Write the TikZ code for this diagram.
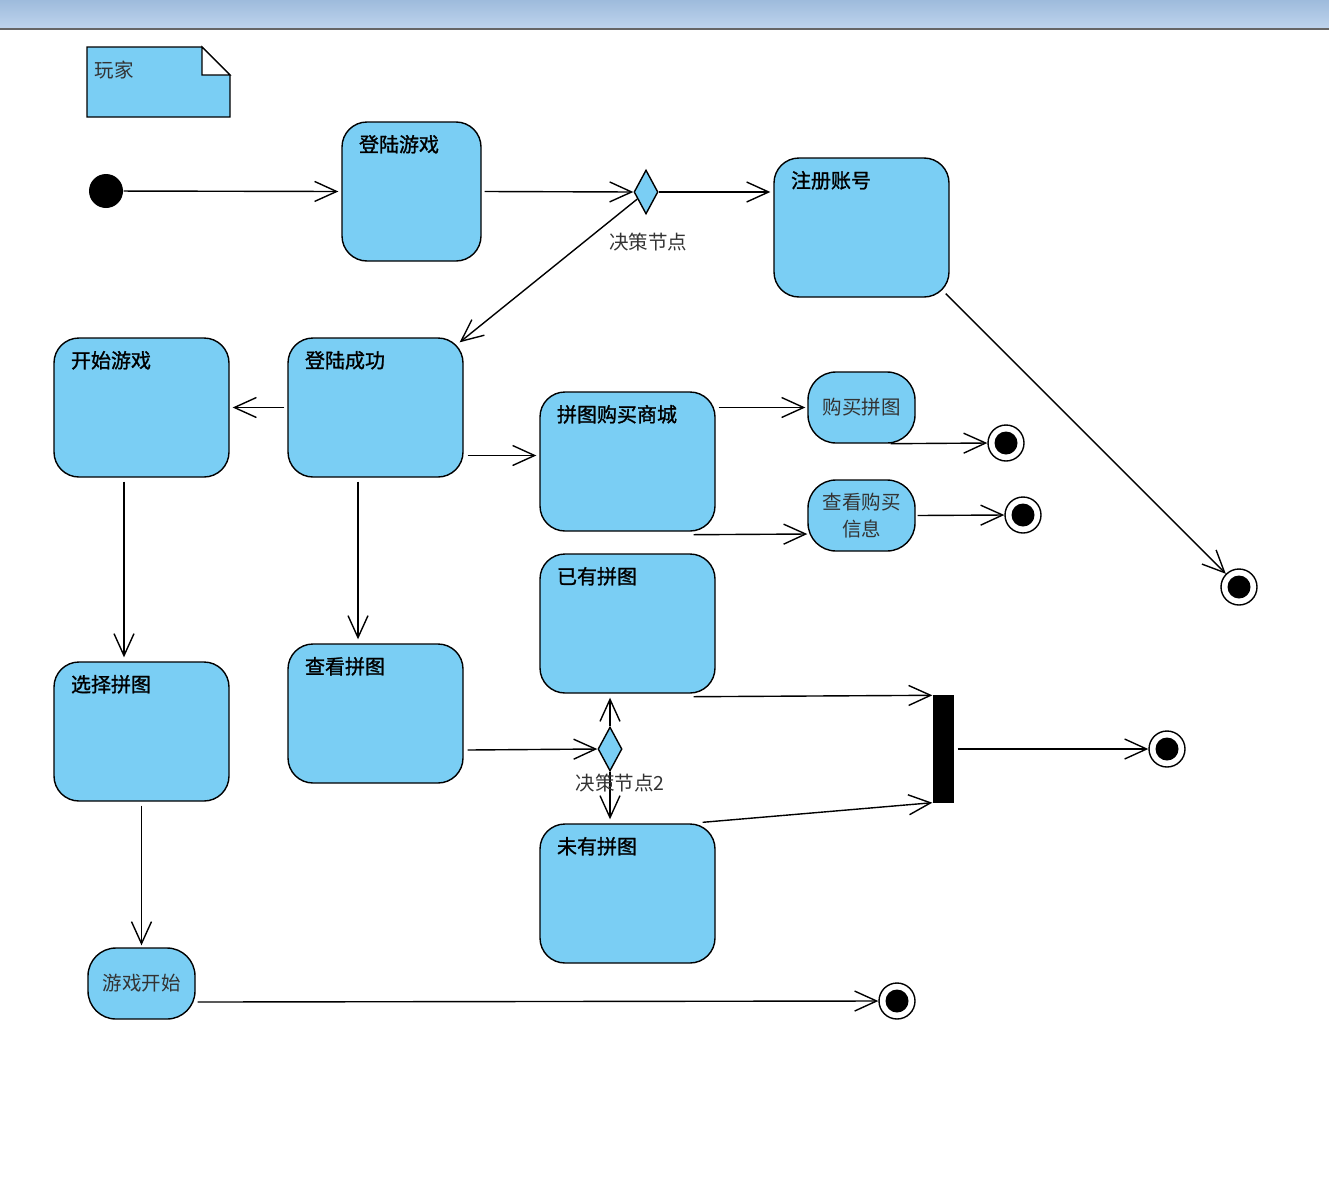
\documentclass[tikz,border=0pt]{standalone}
\usepackage{fontspec}
\newfontfamily\cjk{Noto Sans CJK SC}
\newfontfamily\cjkb{Noto Sans CJK SC}[FakeBold=1.2]
\usetikzlibrary{shapes.geometric,arrows.meta}
\definecolor{stfill}{RGB}{122,206,244}
\definecolor{hdtop}{RGB}{158,187,220}
\definecolor{hdbot}{RGB}{190,212,237}
\begin{document}
\begin{tikzpicture}[x=1pt,y=-1pt,line width=1.4pt,
  state/.style={draw,fill=stfill,rounded corners=25pt,minimum width=175pt,minimum height=139pt,inner sep=0pt},
  small/.style={state,rounded corners=28pt,minimum width=107pt,minimum height=71pt,align=center,font=\cjk\fontsize{19.5}{27}\selectfont,text=black!80},
  tag/.style={anchor=west,inner sep=0pt,xshift=17pt,yshift=-23pt,font=\cjkb\fontsize{20}{22}\selectfont},
  choice/.style={diamond,draw,fill=stfill,minimum width=24pt,minimum height=44pt,aspect=0.55,inner sep=0pt},
  final/.style={circle,draw,fill=white,minimum size=36pt,inner sep=0pt,path picture={\fill[black] (path picture bounding box.center) circle[radius=11.5pt];}},
  thin/.style={font=\cjk\fontsize{19.5}{22}\selectfont,text=black!80,inner sep=0pt},
  arr/.style={-{Straight Barb[length=22pt,width=20pt]}}]
\useasboundingbox (0,0) rectangle (1329,1191);
% header band
\shade [top color=hdtop,bottom color=hdbot] (0,0) rectangle (1329,28);
\draw [gray!80!black] (0,29) -- (1329,29);
% note
\filldraw [fill=stfill] (87,47) -- (202,47) -- (230,75) -- (230,117) -- (87,117) -- cycle;
\filldraw [fill=white] (202,47) -- (202,75) -- (230,75) -- cycle;
\node [thin,anchor=west] (wj) at (94,70) {玩家};
% states
\node [fill=black,circle,minimum size=34pt,inner sep=0pt] (init) at (106,191) {};
\node [state,minimum width=139pt,label={[tag]north west:登陆游戏}] (dlyx) at (411.5,191.5) {};
\node [choice] (d1) at (646,192) {};
\node [thin] (d1t) at (648,242) {决策节点};
\node [state,label={[tag]north west:注册账号}] (zczh) at (861.5,227.5) {};
\node [state,label={[tag]north west:登陆成功}] (dlcg) at (375.5,407.5) {};
\node [state,label={[tag]north west:开始游戏}] (ksyx) at (141.5,407.5) {};
\node [state,label={[tag]north west:拼图购买商城}] (sc) at (627.5,461.5) {};
\node [small] (gmpt) at (861.5,407.5) {购买拼图};
\node [small] (ckxx) at (861.5,515.5) {查看购买\\信息};
\node [state,label={[tag]north west:选择拼图}] (xzpt) at (141.5,731.5) {};
\node [state,label={[tag]north west:查看拼图}] (ckpt) at (375.5,713.5) {};
\node [state,label={[tag]north west:已有拼图}] (yy) at (627.5,623.5) {};
\node [state,label={[tag]north west:未有拼图}] (wy) at (627.5,893.5) {};
\node [choice] (d2) at (610,749) {};
\node [small] (yxks) at (141.5,983.5) {游戏开始};
\node [fill=black,minimum width=21pt,minimum height=108pt,inner sep=0pt] (bar) at (943.5,749) {};
\node [final] (e1) at (1239,587) {};
\node [final] (e2) at (1006,443) {};
\node [final] (e3) at (1023,515) {};
\node [final] (e4) at (1167,749) {};
\node [final] (e5) at (897,1001) {};
% transitions
\draw [arr] (init) -- ([xshift=-3pt]dlyx.west);
\draw [arr] ([xshift=3pt]dlyx.east) -- (d1.west);
\draw [arr] (d1.east) -- ([xshift=-3pt]d1.east -| zczh.west);
\draw [arr] ([xshift=-4pt,yshift=4pt]zczh.south east) -- (e1);
\draw [arr] (d1) -- ([xshift=-4pt,yshift=-5pt]dlcg.north east);
\draw [arr] ([xshift=-3pt]dlcg.west) -- ([xshift=3pt]ksyx.east);
\draw [arr] ([xshift=4pt,yshift=-48pt]dlcg.east) -- ([xshift=-3pt,yshift=-48pt]dlcg.east -| sc.west);
\draw [arr] ([xshift=3pt]sc.east |- gmpt.west) -- ([xshift=-2pt]gmpt.west);
\draw [arr] ([xshift=-25pt]gmpt.south east) -- (e2.west);
\draw [arr] ([xshift=-22pt,yshift=-3pt]sc.south east) -- ([yshift=-18.5pt]ckxx.west);
\draw [arr] ([xshift=2pt]ckxx.east) -- (e3.west);
\draw [arr] ([xshift=-17.5pt,yshift=-4pt]ksyx.south) -- ([xshift=-17.5pt,yshift=4pt]xzpt.north);
\draw [arr] ([xshift=-17.5pt,yshift=-4pt]dlcg.south) -- ([xshift=-17.5pt,yshift=4pt]ckpt.north);
\draw [arr] ([xshift=4pt,yshift=-36.5pt]ckpt.east) -- (d2.west);
\draw [arr] (d2.north) -- ([yshift=-4pt]d2.north |- yy.south);
\draw [arr] (d2.south) -- ([yshift=4pt]d2.south |- wy.north);
\node [thin] (d2t) at (620,783) {决策节点2};
\draw [arr] ([xshift=-22pt,yshift=-3pt]yy.south east) -- ([yshift=-1pt]bar.north west);
\draw [arr] ([xshift=-13pt,yshift=1pt]wy.north east) -- ([yshift=1pt]bar.south west);
\draw [arr] ([xshift=3pt]bar.east) -- (e4.west);
\draw [arr] ([yshift=-4pt]xzpt.south) -- ([yshift=2pt]yxks.north);
\draw [arr] ([xshift=2pt,yshift=-18.5pt]yxks.east) -- (e5.west);
\end{tikzpicture}
\end{document}
